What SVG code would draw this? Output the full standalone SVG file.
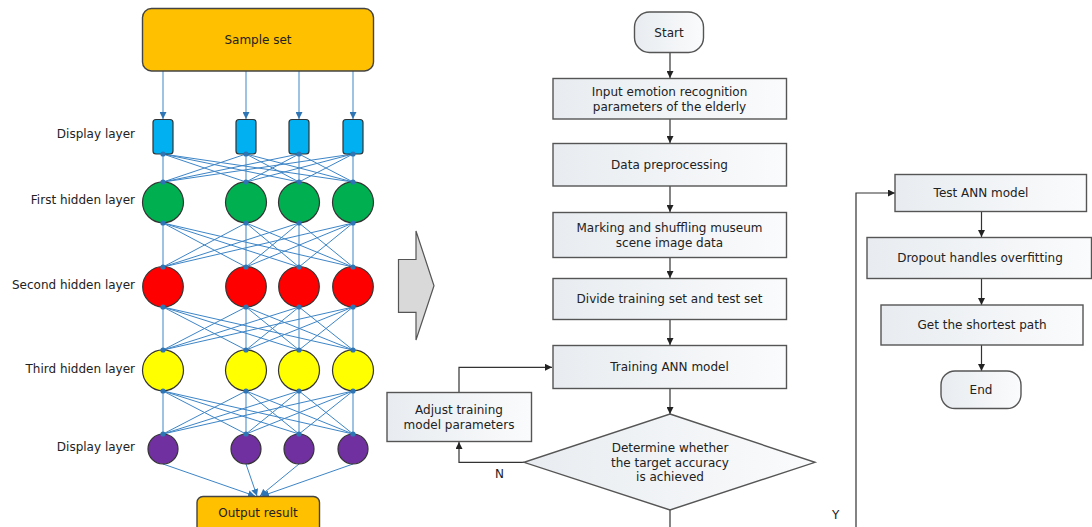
<svg xmlns="http://www.w3.org/2000/svg" width="1092" height="527" viewBox="0 0 1092 527">
  <style>
    text { font-family: "DejaVu Sans", Verdana, sans-serif; font-size: 12px; fill: #222; }
    .mid { text-anchor: middle; }
    .lbl { text-anchor: end; }
    .net { fill: none; stroke: #3D85C6; stroke-width: 1; }
    .dot { fill: #2E75B6; }
    .neuron { stroke: #333; stroke-width: 1.2; }
    .box { fill: url(#boxFill); stroke: #555; stroke-width: 1.4; }
    .flow { fill: none; stroke: #333; stroke-width: 1.2; }
    .orange { fill: #FFC000; stroke: #444; stroke-width: 1.4; }
  </style>
  <defs>
    <linearGradient id="boxFill" x1="0" y1="0" x2="1" y2="0">
      <stop offset="0" stop-color="#E8ECF0"/>
      <stop offset="1" stop-color="#FAFBFC"/>
    </linearGradient>
    <marker id="blueArrow" viewBox="0 0 10 10" refX="10" refY="5" markerWidth="7" markerHeight="7" markerUnits="userSpaceOnUse" orient="auto">
      <path d="M0,0 L10,5 L0,10 z" fill="#2E75B6"/>
    </marker>
    <marker id="blackArrow" viewBox="0 0 10 10" refX="10" refY="5" markerWidth="7" markerHeight="7" markerUnits="userSpaceOnUse" orient="auto">
      <path d="M0,0 L10,5 L0,10 z" fill="#222"/>
    </marker>
  </defs>

  <!-- Neural network: connectors -->
  <g id="net-connectors">
    <path class="net" marker-end="url(#blueArrow)" d="M163 71V119"/>
    <path class="net" marker-end="url(#blueArrow)" d="M246 71V119"/>
    <path class="net" marker-end="url(#blueArrow)" d="M299 71V119"/>
    <path class="net" marker-end="url(#blueArrow)" d="M353 71V119"/>
    <!-- input -> first hidden -->
    <path class="net" d="M163 154L163 182M163 154L246 182M163 154L299 182M163 154L353 182M246 154L163 182M246 154L246 182M246 154L299 182M246 154L353 182M299 154L163 182M299 154L246 182M299 154L299 182M299 154L353 182M353 154L163 182M353 154L246 182M353 154L299 182M353 154L353 182"/>
    <!-- first -> second hidden -->
    <path class="net" d="M163 223L163 267M163 223L246 267M163 223L299 267M163 223L353 267M246 223L163 267M246 223L246 267M246 223L299 267M246 223L353 267M299 223L163 267M299 223L246 267M299 223L299 267M299 223L353 267M353 223L163 267M353 223L246 267M353 223L299 267M353 223L353 267"/>
    <!-- second -> third hidden -->
    <path class="net" d="M163 307L163 350M163 307L246 350M163 307L299 350M163 307L353 350M246 307L163 350M246 307L246 350M246 307L299 350M246 307L353 350M299 307L163 350M299 307L246 350M299 307L299 350M299 307L353 350M353 307L163 350M353 307L246 350M353 307L299 350M353 307L353 350"/>
    <!-- third hidden -> output layer -->
    <path class="net" d="M163 391L163 434M163 391L246 434M163 391L299 434M163 391L353 434M246 391L163 434M246 391L246 434M246 391L299 434M246 391L353 434M299 391L163 434M299 391L246 434M299 391L299 434M299 391L353 434M353 391L163 434M353 391L246 434M353 391L299 434M353 391L353 434"/>
    <!-- output layer -> result -->
    <path class="net" marker-end="url(#blueArrow)" d="M163 464L255 496"/>
    <path class="net" marker-end="url(#blueArrow)" d="M246 464L257 496"/>
    <path class="net" marker-end="url(#blueArrow)" d="M299 464L260 496"/>
    <path class="net" marker-end="url(#blueArrow)" d="M353 464L262 496"/>
  </g>

  <g id="sample-set">
    <rect class="orange" x="142.5" y="8.5" width="231" height="62.5" rx="9"/>
    <text class="mid" x="258" y="44">Sample set</text>
  </g>

  <g id="display-layer-in">
    <text class="lbl" x="135" y="138">Display layer</text>
    <rect class="neuron" fill="#00B0F0" x="153" y="119.5" width="20" height="34.5" rx="3"/>
    <rect class="neuron" fill="#00B0F0" x="236" y="119.5" width="20" height="34.5" rx="3"/>
    <rect class="neuron" fill="#00B0F0" x="289" y="119.5" width="20" height="34.5" rx="3"/>
    <rect class="neuron" fill="#00B0F0" x="343" y="119.5" width="20" height="34.5" rx="3"/>
  </g>

  <g id="first-hidden-layer">
    <text class="lbl" x="135" y="204">First hidden layer</text>
    <circle class="neuron" fill="#00B050" cx="163" cy="202.3" r="20.5"/>
    <circle class="neuron" fill="#00B050" cx="246" cy="202.3" r="20.5"/>
    <circle class="neuron" fill="#00B050" cx="299" cy="202.3" r="20.5"/>
    <circle class="neuron" fill="#00B050" cx="353" cy="202.3" r="20.5"/>
  </g>

  <g id="second-hidden-layer">
    <text class="lbl" x="135" y="289">Second hidden layer</text>
    <circle class="neuron" fill="#FF0000" cx="163" cy="286.8" r="20.3"/>
    <circle class="neuron" fill="#FF0000" cx="246" cy="286.8" r="20.3"/>
    <circle class="neuron" fill="#FF0000" cx="299" cy="286.8" r="20.3"/>
    <circle class="neuron" fill="#FF0000" cx="353" cy="286.8" r="20.3"/>
  </g>

  <g id="third-hidden-layer">
    <text class="lbl" x="135" y="373">Third hidden layer</text>
    <circle class="neuron" fill="#FFFF00" cx="163" cy="370.3" r="20.5"/>
    <circle class="neuron" fill="#FFFF00" cx="246" cy="370.3" r="20.5"/>
    <circle class="neuron" fill="#FFFF00" cx="299" cy="370.3" r="20.5"/>
    <circle class="neuron" fill="#FFFF00" cx="353" cy="370.3" r="20.5"/>
  </g>

  <g id="display-layer-out">
    <text class="lbl" x="135" y="451">Display layer</text>
    <circle class="neuron" fill="#7030A0" cx="163" cy="449" r="15"/>
    <circle class="neuron" fill="#7030A0" cx="246" cy="449" r="15"/>
    <circle class="neuron" fill="#7030A0" cx="299" cy="449" r="15"/>
    <circle class="neuron" fill="#7030A0" cx="353" cy="449" r="15"/>
  </g>

  <!-- junction dots at neuron ports -->
  <g id="net-dots">
    <circle class="dot" cx="163" cy="154" r="2.6"/><circle class="dot" cx="246" cy="154" r="2.6"/><circle class="dot" cx="299" cy="154" r="2.6"/><circle class="dot" cx="353" cy="154" r="2.6"/>
    <circle class="dot" cx="163" cy="182" r="2.6"/><circle class="dot" cx="246" cy="182" r="2.6"/><circle class="dot" cx="299" cy="182" r="2.6"/><circle class="dot" cx="353" cy="182" r="2.6"/>
    <circle class="dot" cx="163" cy="223" r="2.6"/><circle class="dot" cx="246" cy="223" r="2.6"/><circle class="dot" cx="299" cy="223" r="2.6"/><circle class="dot" cx="353" cy="223" r="2.6"/>
    <circle class="dot" cx="163" cy="267" r="2.6"/><circle class="dot" cx="246" cy="267" r="2.6"/><circle class="dot" cx="299" cy="267" r="2.6"/><circle class="dot" cx="353" cy="267" r="2.6"/>
    <circle class="dot" cx="163" cy="307" r="2.6"/><circle class="dot" cx="246" cy="307" r="2.6"/><circle class="dot" cx="299" cy="307" r="2.6"/><circle class="dot" cx="353" cy="307" r="2.6"/>
    <circle class="dot" cx="163" cy="350" r="2.6"/><circle class="dot" cx="246" cy="350" r="2.6"/><circle class="dot" cx="299" cy="350" r="2.6"/><circle class="dot" cx="353" cy="350" r="2.6"/>
    <circle class="dot" cx="163" cy="391" r="2.6"/><circle class="dot" cx="246" cy="391" r="2.6"/><circle class="dot" cx="299" cy="391" r="2.6"/><circle class="dot" cx="353" cy="391" r="2.6"/>
    <circle class="dot" cx="163" cy="434" r="2.6"/><circle class="dot" cx="246" cy="434" r="2.6"/><circle class="dot" cx="299" cy="434" r="2.6"/><circle class="dot" cx="353" cy="434" r="2.6"/>
  </g>

  <g id="output-result">
    <rect class="orange" x="197" y="496.5" width="122.5" height="36" rx="6"/>
    <text class="mid" x="258" y="517">Output result</text>
  </g>

  <!-- transition arrow between the two parts -->
  <g id="block-arrow">
    <path d="M398.5 259.5H416V231L434 285.7L416 340V312.3H398.5Z" fill="#D9D9D9" stroke="#555" stroke-width="1.2"/>
  </g>

  <!-- Flowchart connectors -->
  <g id="flow-connectors">
    <path class="flow" marker-end="url(#blackArrow)" d="M670 52.5V78"/>
    <path class="flow" marker-end="url(#blackArrow)" d="M670 119V143"/>
    <path class="flow" marker-end="url(#blackArrow)" d="M670 186V212"/>
    <path class="flow" marker-end="url(#blackArrow)" d="M670 258V278"/>
    <path class="flow" marker-end="url(#blackArrow)" d="M670 319.5V345"/>
    <path class="flow" marker-end="url(#blackArrow)" d="M670 388.5V414"/>
    <path class="flow" d="M670 510V527"/>
    <path class="flow" marker-end="url(#blackArrow)" d="M524 462.3H459V442"/>
    <path class="flow" marker-end="url(#blackArrow)" d="M459 392V367.3H552"/>
    <path class="flow" marker-end="url(#blackArrow)" d="M856 527V193H895"/>
    <path class="flow" marker-end="url(#blackArrow)" d="M981.5 212V237"/>
    <path class="flow" marker-end="url(#blackArrow)" d="M981.5 278.5V305"/>
    <path class="flow" marker-end="url(#blackArrow)" d="M981.5 345V371"/>
    <text x="495" y="478">N</text>
    <text x="832" y="519">Y</text>
  </g>

  <g id="start">
    <rect class="box" x="634.5" y="12" width="69" height="40.5" rx="15"/>
    <text class="mid" x="669" y="36.5">Start</text>
  </g>

  <g id="input-params">
    <rect class="box" x="553" y="78.5" width="233.5" height="40.5"/>
    <text class="mid" x="669.5" y="96">Input emotion recognition</text>
    <text class="mid" x="669.5" y="111">parameters of the elderly</text>
  </g>

  <g id="preprocessing">
    <rect class="box" x="553" y="143.5" width="233.5" height="42.5"/>
    <text class="mid" x="669.5" y="169">Data preprocessing</text>
  </g>

  <g id="marking">
    <rect class="box" x="553" y="212.5" width="233.5" height="45"/>
    <text class="mid" x="669.5" y="232">Marking and shuffling museum</text>
    <text class="mid" x="669.5" y="247">scene image data</text>
  </g>

  <g id="divide">
    <rect class="box" x="553" y="278.5" width="233.5" height="41"/>
    <text class="mid" x="669.5" y="303">Divide training set and test set</text>
  </g>

  <g id="training">
    <rect class="box" x="553" y="345.5" width="233.5" height="43"/>
    <text class="mid" x="669.5" y="371">Training ANN model</text>
  </g>

  <g id="adjust">
    <rect class="box" x="387" y="392.5" width="144.5" height="49"/>
    <text class="mid" x="459" y="414">Adjust training</text>
    <text class="mid" x="459" y="429">model parameters</text>
  </g>

  <g id="decision">
    <path class="box" d="M670 414L815 462.3L670 510L524 462.3Z"/>
    <text class="mid" x="670" y="452">Determine whether</text>
    <text class="mid" x="670" y="467">the target accuracy</text>
    <text class="mid" x="670" y="481">is achieved</text>
  </g>

  <g id="test-ann">
    <rect class="box" x="895" y="174.5" width="191.5" height="37"/>
    <text class="mid" x="981" y="197">Test ANN model</text>
  </g>

  <g id="dropout">
    <rect class="box" x="867" y="237.5" width="224.5" height="41"/>
    <text class="mid" x="980" y="262">Dropout handles overfitting</text>
  </g>

  <g id="shortest-path">
    <rect class="box" x="881" y="305" width="202" height="40"/>
    <text class="mid" x="982" y="329">Get the shortest path</text>
  </g>

  <g id="end">
    <rect class="box" x="941" y="371" width="80" height="37.5" rx="14"/>
    <text class="mid" x="981" y="394">End</text>
  </g>
</svg>
